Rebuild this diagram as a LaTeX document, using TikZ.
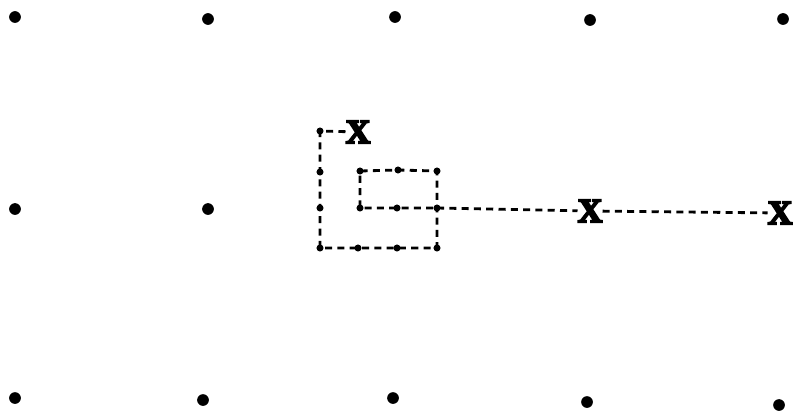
\documentclass[tikz,border=0pt]{standalone}
\usepackage{fontspec}
\usepackage{tikz}
\usetikzlibrary{positioning}
\newfontfamily\crossfont[FakeBold=6]{Liberation Serif}

\begin{document}
\begin{tikzpicture}[
    x=0.03cm, y=-0.03cm,
    site/.style  = {circle, fill=black, inner sep=0pt, minimum size=10pt},
    visit/.style = {circle, fill=black, inner sep=0pt, minimum size=6pt},
    cross/.style = {inner sep=0pt, font=\crossfont\fontsize{29}{29}\selectfont\bfseries},
    walk/.style  = {line width=2.4pt, dash pattern=on 6pt off 4.5pt}
]
\useasboundingbox (0,0) rectangle (795,414);

% ========= lattice sites =========
\foreach \x/\y/\n in {15/17/a1, 208/19/a2, 395/17/a3, 590/20/a4, 783/19/a5,
                      15/209/b1, 208/209/b2,
                      15/398/c1, 203/400/c2, 393/398/c3, 587/402/c4, 779/405/c5}
  \node[site] (\n) at (\x,\y) {};

% ========= marked sites =========
\node[cross] (x1) at (358,132) {X};
\node[cross] (x2) at (590,211) {X};
\node[cross] (x3) at (780,213) {X};

% ========= walk =========
\foreach \x/\y/\n in {320/131/p1, 320/172/p2, 320/208/p3, 320/248/p4,
                      358/248/p5, 397/248/p6, 437/248/p7, 437/208/p8,
                      437/171/p9, 398/170/p10, 360/171/p11, 360/208/p12,
                      397/208/p13}
  \node[visit] (\n) at (\x,\y) {};

\draw[walk] (x1) -- (p1.center) -- (p2.center) -- (p3.center) -- (p4.center)
            -- (p5.center) -- (p6.center) -- (p7.center) -- (p8.center)
            -- (p9.center) -- (p10.center) -- (p11.center) -- (p12.center)
            -- (p13.center) -- (p8.center);
\draw[walk] (p8.center) -- (x2);
\draw[walk] (x2) -- (x3);

\end{tikzpicture}
\end{document}
